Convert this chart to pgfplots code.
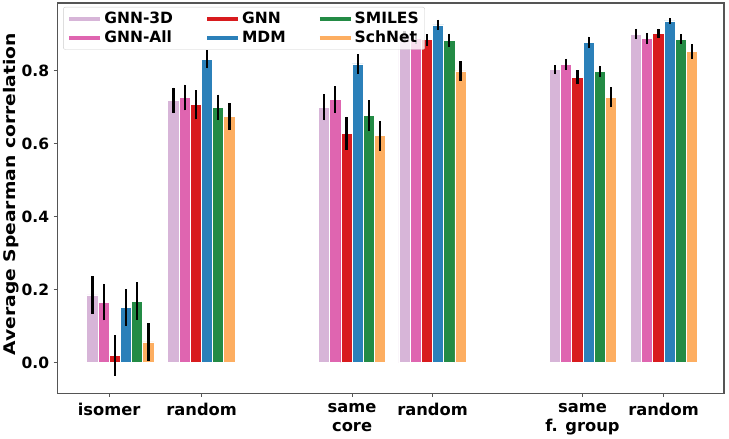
\documentclass[border=0pt]{standalone}
\usepackage{pgfplots}
\pgfplotsset{compat=1.18}
\usepackage{fontspec}
\setmainfont{DejaVu Sans}
\usepackage{graphicx}
\definecolor{cGNNthree}{RGB}{215,181,216}
\definecolor{cGNNall}{RGB}{223,101,176}
\definecolor{cGNN}{RGB}{216,27,30}
\definecolor{cMDM}{RGB}{43,128,185}
\definecolor{cSMILES}{RGB}{35,139,69}
\definecolor{cSchNet}{RGB}{253,174,97}
\definecolor{spine}{RGB}{85,85,85}
\newcommand{\lgf}[1]{\fontsize{15.5}{18}\selectfont\bfseries #1}
\newcommand{\tkf}[1]{\fontsize{15.5}{18}\selectfont\bfseries #1}
\begin{document}
\bfseries
\begin{tikzpicture}
\begin{axis}[
  scale only axis,
  width=667pt, height=390.5pt,
  xmin=57, xmax=724,
  ymin=-0.084, ymax=0.986,
  axis line style={draw=spine, line width=1.1pt},
  tick pos=left,
  tick align=outside,
  major tick length=3.5pt,
  every tick/.style={draw=spine, line width=0.8pt},
  xtick={109,201.5,352,432.5,582.5,663.5},
  xticklabels={isomer, random, {same\\core}, random, {same\\f. group}, random},
  x tick label style={align=center, yshift=-3pt, font=\fontsize{16.3}{19}\selectfont\bfseries},
  ytick={0,0.2,0.4,0.6,0.8},
  yticklabels={{\tkf{0.0}}, {\tkf{0.2}}, {\tkf{0.4}}, {\tkf{0.6}}, {\tkf{0.8}}},
  y tick label style={xshift=-1pt},
  ylabel={\scalebox{1.17}[1]{Average Spearman correlation}},
  ylabel style={font=\fontsize{16}{19}\selectfont\bfseries, at={(axis description cs:-0.069,0.51)}, rotate=0, anchor=center},
  legend columns=3,
  legend cell align=left,
  legend style={at={(axis description cs:0,1)}, anchor=north west, xshift=6pt, yshift=-4pt,
    draw=black!20, rounded corners=2pt, fill=white, fill opacity=0.8, text opacity=1,
    inner xsep=4pt, inner ysep=3pt, row sep=2pt,
    /tikz/every even column/.append style={column sep=30pt}},
  legend image code/.code={\draw[line width=4pt] (0pt,0pt) -- (31pt,0pt);},
  error bars/error bar style={black, line width=2.2pt},
  error bars/error mark=none,
]
% GNN-3D
\addplot[ybar, bar width=11.2pt, bar shift=0pt, fill=cGNNthree, draw=white, line width=0.7pt, forget plot,
  error bars/.cd, y dir=both, y explicit] coordinates {
  (92.3,0.186) +- (0,0.051)
  (173.3,0.719) +- (0,0.035)
  (324,0.700) +- (0,0.036)
  (404.5,0.896) +- (0,0.012)
  (555,0.803) +- (0,0.012)
  (636,0.901) +- (0,0.014)
};
% GNN-All
\addplot[ybar, bar width=11.2pt, bar shift=0pt, fill=cGNNall, draw=white, line width=0.7pt, forget plot,
  error bars/.cd, y dir=both, y explicit] coordinates {
  (103.5,0.166) +- (0,0.050)
  (184.5,0.727) +- (0,0.035)
  (335.2,0.721) +- (0,0.037)
  (415.7,0.889) +- (0,0.016)
  (566.2,0.818) +- (0,0.015)
  (647.2,0.889) +- (0,0.015)
};
% GNN
\addplot[ybar, bar width=11.2pt, bar shift=0pt, fill=cGNN, draw=white, line width=0.7pt, forget plot,
  error bars/.cd, y dir=both, y explicit] coordinates {
  (114.7,0.020) +- (0,0.055)
  (195.7,0.707) +- (0,0.040)
  (346.4,0.629) +- (0,0.045)
  (426.9,0.885) +- (0,0.016)
  (577.4,0.783) +- (0,0.019)
  (658.4,0.903) +- (0,0.012)
};
% MDM
\addplot[ybar, bar width=11.2pt, bar shift=0pt, fill=cMDM, draw=white, line width=0.7pt, forget plot,
  error bars/.cd, y dir=both, y explicit] coordinates {
  (125.9,0.152) +- (0,0.050)
  (206.9,0.832) +- (0,0.025)
  (357.6,0.819) +- (0,0.027)
  (438.1,0.926) +- (0,0.014)
  (588.6,0.878) +- (0,0.016)
  (669.6,0.937) +- (0,0.008)
};
% SMILES
\addplot[ybar, bar width=11.2pt, bar shift=0pt, fill=cSMILES, draw=white, line width=0.7pt, forget plot,
  error bars/.cd, y dir=both, y explicit] coordinates {
  (137.1,0.169) +- (0,0.051)
  (218.1,0.700) +- (0,0.035)
  (368.8,0.678) +- (0,0.042)
  (449.3,0.884) +- (0,0.018)
  (599.8,0.798) +- (0,0.016)
  (680.8,0.887) +- (0,0.013)
};
% SchNet
\addplot[ybar, bar width=11.2pt, bar shift=0pt, fill=cSchNet, draw=white, line width=0.7pt, forget plot,
  error bars/.cd, y dir=both, y explicit] coordinates {
  (148.3,0.057) +- (0,0.051)
  (229.3,0.675) +- (0,0.037)
  (380,0.622) +- (0,0.041)
  (460.5,0.800) +- (0,0.027)
  (611,0.728) +- (0,0.027)
  (692,0.853) +- (0,0.020)
};
\addlegendimage{draw=cGNNthree}\addlegendentry{\lgf{GNN-3D}}
\addlegendimage{draw=cGNN}\addlegendentry{\lgf{GNN}}
\addlegendimage{draw=cSMILES}\addlegendentry{\lgf{SMILES}}
\addlegendimage{draw=cGNNall}\addlegendentry{\lgf{GNN-All}}
\addlegendimage{draw=cMDM}\addlegendentry{\lgf{MDM}}
\addlegendimage{draw=cSchNet}\addlegendentry{\lgf{SchNet}}
\end{axis}
\path ([xshift=-57pt,yshift=-44.5pt]current axis.south west) rectangle ([xshift=5pt,yshift=3pt]current axis.north east);
\end{tikzpicture}
\end{document}
